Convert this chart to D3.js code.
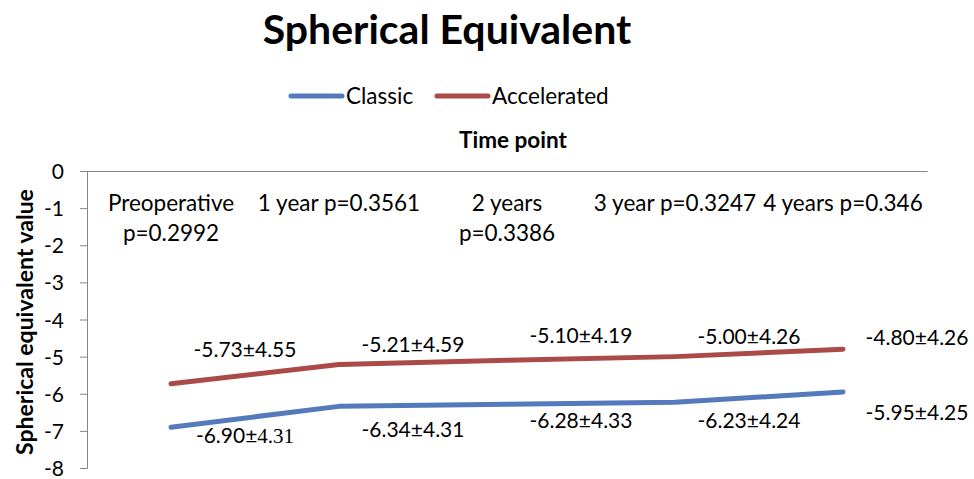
<!DOCTYPE html>
<meta charset="utf-8">
<html><head>
<style>
body { margin: 0; background: #fff; }
text { font-family: Lato, "Open Sans", sans-serif; fill: #000; }
.axis path, .axis line { stroke: #868686; }
.axis text { font-size: 21px; font-family: Lato, sans-serif; }
</style>
</head>
<body>
<svg width="974" height="479"></svg>
<script src="https://d3js.org/d3.v7.min.js"></script>
<script>

var categories = ["Preoperative\np=0.2992", "1 year p=0.3561", "2 years\np=0.3386", "3 year p=0.3247", "4 years p=0.346"];
var classic = [-6.90, -6.34, -6.28, -6.23, -5.95];
var classicSD = [4.31, 4.31, 4.33, 4.24, 4.25];
var accelerated = [-5.73, -5.21, -5.10, -5.00, -4.80];
var acceleratedSD = [4.55, 4.59, 4.19, 4.26, 4.26];
var yTicks = [0, -1, -2, -3, -4, -5, -6, -7, -8];

// hand placed label nudges, as in the original
var accShift = [-27, -12, -17, -13, -4];
var claShift = [16, 31, 24, 26, 28];

var svg = d3.select("svg"),
    width = +svg.attr("width"),
    height = +svg.attr("height");

var x = d3.scaleBand().domain(categories).range([87, 927]);
var y = d3.scaleLinear().domain([-8, 0]).range([468, 171]);
function cx(i) { return x(categories[i]) + x.bandwidth() / 2; }

var series = [
  {name: "Classic", values: classic, sd: classicSD, color: "#5479bd", shift: claShift},
  {name: "Accelerated", values: accelerated, sd: acceleratedSD, color: "#aa4b49", shift: accShift}
];

// title
svg.append("text")
    .attr("x", 447).attr("y", 44)
    .attr("text-anchor", "middle")
    .style("font-size", "41px").style("font-weight", "bold")
    .text("Spherical Equivalent");

// legend
var legend = svg.append("g");
var lx = [291, 437];
series.forEach(function(s, i) {
  legend.append("line")
      .attr("x1", lx[i]).attr("x2", lx[i] + 51)
      .attr("y1", 96).attr("y2", 96)
      .attr("stroke", s.color).attr("stroke-width", 5)
      .attr("stroke-linecap", "round");
  legend.append("text")
      .attr("x", lx[i] + 55).attr("y", 104)
      .style("font-size", "22.5px")
      .text(s.name);
});

// axis title top
svg.append("text")
    .attr("x", 513).attr("y", 148)
    .attr("text-anchor", "middle")
    .style("font-size", "22.5px").style("font-weight", "bold")
    .text("Time point");

// y axis title
svg.append("text")
    .attr("transform", "translate(33,322) rotate(-90)")
    .attr("text-anchor", "middle")
    .style("font-size", "23px").style("font-weight", "bold")
    .text("Spherical equivalent value");

// y axis
var yAxis = svg.append("g")
    .attr("class", "axis")
    .attr("transform", "translate(87,0)")
    .call(d3.axisLeft(y).tickValues(yTicks).tickSize(7).tickPadding(16)
      .tickFormat(function(d) { return String(d); }));
yAxis.selectAll("text").attr("dy", "0.36em");

// category axis along the top (value 0)
svg.append("g")
    .attr("class", "axis")
    .attr("transform", "translate(0," + y(0) + ")")
    .call(d3.axisTop(x).tickSize(0).tickFormat(""));

var cat = svg.append("g").selectAll("text")
    .data(categories)
    .enter().append("text")
      .attr("text-anchor", "middle")
      .style("font-size", "22.5px");
cat.each(function(d, i) {
  var t = d3.select(this);
  d.split("\n").forEach(function(line, k) {
    t.append("tspan")
        .attr("x", cx(i))
        .attr("y", 211 + k * 30)
        .text(line);
  });
});

// lines
var line = d3.line()
    .x(function(d, i) { return cx(i); })
    .y(function(d) { return y(d); });

svg.append("g").selectAll("path")
    .data(series)
    .enter().append("path")
      .attr("d", function(s) { return line(s.values); })
      .attr("fill", "none")
      .attr("stroke", function(s) { return s.color; })
      .attr("stroke-width", 5)
      .attr("stroke-linecap", "round")
      .attr("stroke-linejoin", "round");

// data labels
series.forEach(function(s) {
  s.values.forEach(function(v, i) {
    var t = svg.append("text")
        .attr("x", cx(i) + 74)
        .attr("y", y(v) + s.shift[i])
        .attr("text-anchor", "middle")
        .style("font-size", "21px");
    var sd = s.sd[i].toFixed(2);
    if (s.name === "Classic" && i === 0) {
      // the first label mixes in a serif font
      t.append("tspan").text(v.toFixed(2) + "\u00b1");
      t.append("tspan").style("font-family", "'Liberation Serif', serif").text(sd);
    } else {
      t.text(v.toFixed(2) + "\u00b1" + sd);
    }
  });
});

</script>
</body>
</html>
